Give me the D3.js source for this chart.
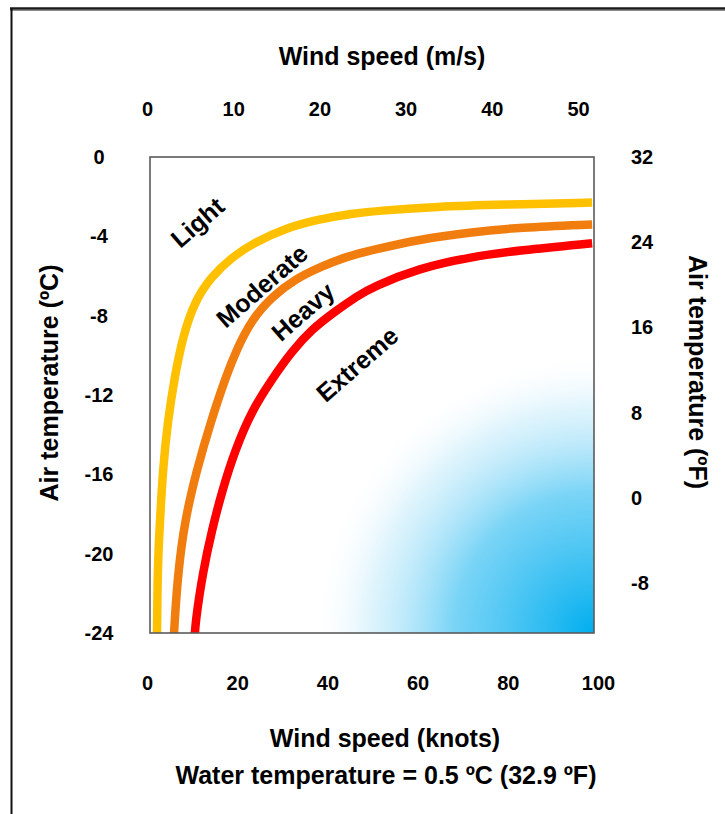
<!DOCTYPE html>
<html>
<head>
<meta charset="utf-8">
<script src="https://cdn.jsdelivr.net/npm/d3@7"></script>
<style>
  html, body { margin: 0; padding: 0; background: #fff; }
  svg { display: block; }
  text { font-family: "Liberation Sans", Arial, sans-serif; font-weight: bold; fill: #000; }
</style>
</head>
<body>
<svg id="chart" width="725" height="814"></svg>
<script>
// ---------- data (wind speed in knots, air temperature in °C) ----------
const lightKnots    = [2.2, 2.3, 2.5, 2.9, 3.5, 4.6, 6.2, 7.9, 10.5, 14.2, 18.8, 23.9, 30.6, 37.9, 45.4, 52, 64, 79, 98.7];
const lightTemp     = [-24.5, -22, -20, -18.3, -15.8, -13.3, -11, -9.1, -7.3, -6.05, -5.05, -4.3, -3.6, -3.15, -2.85, -2.7, -2.5, -2.4, -2.3];
const moderateKnots = [5.9, 6.1, 6.9, 8.4, 11.0, 14.2, 17.6, 19.9, 23.2, 27.7, 32.8, 38.8, 44.5, 49.8, 60.4, 71.5, 82.6, 98.7];
const moderateTemp  = [-24.5, -23.5, -20.9, -18.3, -15.8, -13.3, -11.0, -9.7, -8.2, -7.05, -6.15, -5.5, -5.0, -4.7, -4.15, -3.8, -3.55, -3.4];
const extremeKnots  = [10.5, 10.7, 12.4, 14.4, 16.7, 19.5, 23.2, 27.7, 32.1, 36.5, 41.6, 46.7, 50, 60.4, 71.5, 82.6, 98.7];
const extremeTemp   = [-24.5, -23.5, -20.9, -18.8, -16.8, -14.8, -12.8, -11.2, -9.8, -8.7, -7.8, -7.0, -6.55, -5.6, -5.05, -4.7, -4.35];

const seriesNames  = ["Light", "Moderate", "Extreme"];
const seriesColors = ["#FFC000", "#F07D0E", "#FF0000"];

// curve labels (text, knots, °C of label centre)
const labelText  = ["Light", "Moderate", "Heavy", "Extreme"];
const labelKnots = [11.2, 25.5, 34.6, 46.6];
const labelTemp  = [-3.3, -6.5, -7.8, -10.45];

// tick values
const knotTicks = [0, 20, 40, 60, 80, 100];
const msTicks   = [0, 10, 20, 30, 40, 50];
const cTicks    = [0, -4, -8, -12, -16, -20, -24];
const fTicks    = [32, 24, 16, 8, 0, -8];

const titleTop    = "Wind speed (m/s)";
const titleBottom = "Wind speed (knots)";
const titleLeft   = "Air temperature (ºC)";
const titleRight  = "Air temperature (ºF)";
const footnote    = "Water temperature = 0.5 ºC (32.9 ºF)";

// ---------- layout ----------
const svg = d3.select("#chart");
const P = { left: 150, right: 594, top: 157, bottom: 633 };

const x  = d3.scaleLinear().domain([0, 100]).range([147, 598]);
const xT = d3.scaleLinear().domain([0, 50]).range([147, 578]);
const y  = d3.scaleLinear().domain([-24, 0]).range([P.bottom, P.top]);
const yF = d3.scaleLinear().domain([-8, 32]).range([583, 157]);

// outer frame
svg.append("line").attr("x1", 10).attr("x2", 725).attr("y1", 8.5).attr("y2", 8.5)
  .attr("stroke", "#1a1a1a").attr("stroke-width", 2.5);
svg.append("line").attr("x1", 10).attr("x2", 725).attr("y1", 10.5).attr("y2", 10.5)
  .attr("stroke", "#8a8a8a").attr("stroke-width", 1.2);
svg.append("line").attr("x1", 11.5).attr("x2", 11.5).attr("y1", 8).attr("y2", 814)
  .attr("stroke", "#111").attr("stroke-width", 2);

// gradient
const defs = svg.append("defs");
const rg = defs.append("radialGradient").attr("id", "cold")
  .attr("gradientUnits", "userSpaceOnUse")
  .attr("cx", P.right).attr("cy", P.bottom).attr("r", 282);
rg.append("stop").attr("offset", "0").attr("stop-color", "#00AEEF").attr("stop-opacity", 1);
rg.append("stop").attr("offset", "0.5").attr("stop-color", "#29BAF1").attr("stop-opacity", 0.62);
rg.append("stop").attr("offset", "0.8").attr("stop-color", "#8FD9F7").attr("stop-opacity", 0.28);
rg.append("stop").attr("offset", "1").attr("stop-color", "#FFFFFF").attr("stop-opacity", 0);
defs.append("clipPath").attr("id", "plotClip").append("rect")
  .attr("x", P.left).attr("y", P.top).attr("width", P.right - P.left).attr("height", P.bottom - P.top);

svg.append("rect").attr("x", P.left).attr("y", P.top)
  .attr("width", P.right - P.left).attr("height", P.bottom - P.top)
  .attr("fill", "url(#cold)");

// curves
const seriesData = [
  d3.zip(lightKnots, lightTemp),
  d3.zip(moderateKnots, moderateTemp),
  d3.zip(extremeKnots, extremeTemp)
];
const line = d3.line().x(d => x(d[0])).y(d => y(d[1])).curve(d3.curveBasis);
svg.append("g").attr("clip-path", "url(#plotClip)")
  .selectAll("path").data(seriesData).join("path")
  .attr("d", line)
  .attr("fill", "none")
  .attr("stroke", (d, i) => seriesColors[i])
  .attr("stroke-width", 8.5)
  .attr("stroke-linecap", "butt");

// plot frame
svg.append("rect").attr("x", P.left).attr("y", P.top)
  .attr("width", P.right - P.left).attr("height", P.bottom - P.top)
  .attr("fill", "none").attr("stroke", "#5a5a5a").attr("stroke-width", 1.6);

// curve labels
svg.append("g").selectAll("text").data(labelText).join("text")
  .attr("transform", (d, i) => `translate(${x(labelKnots[i])},${y(labelTemp[i])}) rotate(-41)`)
  .attr("text-anchor", "middle").attr("dy", "0.35em")
  .style("font-size", "25px")
  .text(d => d);

// axes
const fmt = d => String(d);
function styleAxis(g) {
  g.select(".domain").remove();
  g.selectAll("line").remove();
  g.selectAll("text").style("font-size", "20px").style("font-family", "Liberation Sans, Arial, sans-serif")
    .style("font-weight", "bold").attr("fill", "#000");
}
svg.append("g").attr("transform", `translate(0,${P.bottom})`)
  .call(d3.axisBottom(x).tickValues(knotTicks).tickSize(0).tickPadding(43).tickFormat(fmt))
  .call(styleAxis);
svg.append("g").attr("transform", `translate(0,${P.top})`)
  .call(d3.axisTop(xT).tickValues(msTicks).tickSize(0).tickPadding(41).tickFormat(fmt))
  .call(styleAxis);
const gl = svg.append("g").attr("transform", `translate(${P.left},0)`)
  .call(d3.axisLeft(y).tickValues(cTicks).tickSize(0).tickPadding(51).tickFormat(fmt))
  .call(styleAxis);
gl.selectAll("text").attr("text-anchor", "middle");
svg.append("g").attr("transform", `translate(${P.right},0)`)
  .call(d3.axisRight(yF).tickValues(fTicks).tickSize(0).tickPadding(37).tickFormat(fmt))
  .call(styleAxis);

// titles
svg.append("text").attr("x", 382).attr("y", 65).attr("text-anchor", "middle")
  .style("font-size", "25px").text(titleTop);
svg.append("text").attr("x", 385).attr("y", 747).attr("text-anchor", "middle")
  .style("font-size", "25px").text(titleBottom);
svg.append("text").attr("x", 386).attr("y", 784).attr("text-anchor", "middle")
  .style("font-size", "25px").text(footnote);
svg.append("text").attr("transform", "translate(58,383) rotate(-90)").attr("text-anchor", "middle")
  .style("font-size", "25px").text(titleLeft);
svg.append("text").attr("transform", "translate(689,372) rotate(90)").attr("text-anchor", "middle")
  .style("font-size", "25px").text(titleRight);
</script>
</body>
</html>
